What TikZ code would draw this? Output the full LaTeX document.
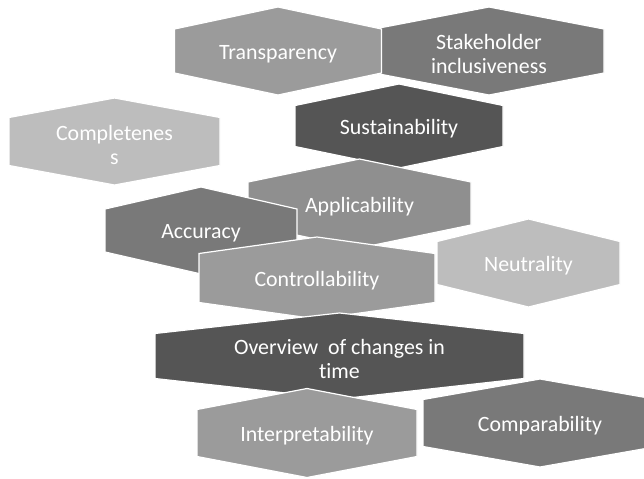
\documentclass[tikz,border=0pt]{standalone}
\usepackage{fontspec}
\setmainfont{Carlito}[Ligatures={NoCommon}]

\definecolor{lightgrey}{HTML}{BDBDBD}
\definecolor{midgrey}{HTML}{9B9B9B}
\definecolor{appgrey}{HTML}{8F8F8F}
\definecolor{darkgrey}{HTML}{797979}
\definecolor{deepgrey}{HTML}{555555}

% centre x, centre y, half width, half height (tip), half side, colour, name, text
\newcommand{\hexcell}[8]{%
  \filldraw[cell,fill=#6] ({#1-#3},{#2-#5}) -- (#1,{#2-#4}) -- ({#1+#3},{#2-#5})
    -- ({#1+#3},{#2+#5}) -- (#1,{#2+#4}) -- ({#1-#3},{#2+#5}) -- cycle;
  \node[text node] (#7) at (#1,{#2+3}) {#8};}

\begin{document}
\begin{tikzpicture}[x=0.75pt,y=-0.75pt,
  cell/.style={draw=white,line width=0.9pt,line join=miter},
  text node/.style={text=white,align=center,inner sep=0pt,
    font=\fontsize{16.4}{18}\selectfont}]
  \useasboundingbox (0,0) rectangle (644,479);
  \clip (0,0) rectangle (644,479);
  \hexcell{489}{51}{115}{44}{22}{darkgrey}{2}{Stakeholder\\inclusiveness}
  \hexcell{278}{51}{103.5}{44}{22}{midgrey}{1}{Transparency}
  \hexcell{114.5}{141.5}{105.5}{43.5}{24}{lightgrey}{3}{Completenes\\s}
  \hexcell{399}{126}{104}{42}{20.5}{deepgrey}{4}{Sustainability}
  \hexcell{359.5}{203.5}{111.5}{44.5}{21.5}{appgrey}{5}{Applicability}
  \hexcell{201}{230.5}{96}{43.5}{21.5}{darkgrey}{6}{Accuracy}
  \hexcell{528.5}{263}{91.5}{44}{21.5}{lightgrey}{8}{Neutrality}
  \hexcell{317}{278}{118}{41}{24.5}{midgrey}{7}{Controllability}
  \hexcell{339.5}{356}{184.5}{43}{22.5}{deepgrey}{9}{Overview~ of changes in\\time}
  \hexcell{307}{433}{110}{44.5}{23.5}{midgrey}{10}{Interpretability}
  \hexcell{540}{423}{117}{44}{23.5}{darkgrey}{11}{Comparability}
\end{tikzpicture}
\end{document}
